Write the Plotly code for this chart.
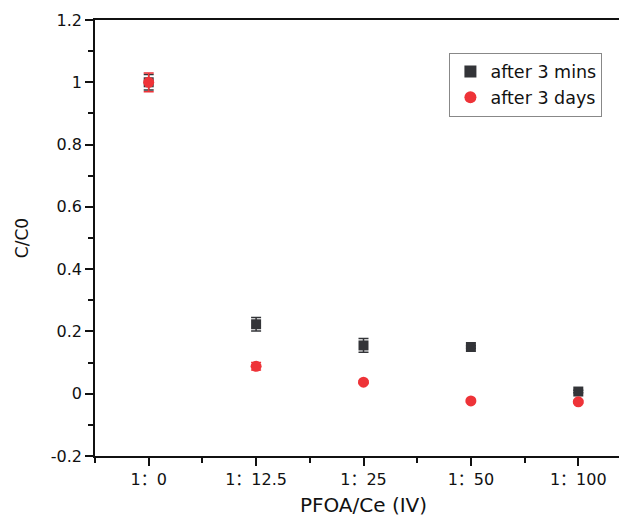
import plotly.graph_objects as go

categories = ["1：0", "1：12.5", "1：25", "1：50", "1：100"]
mins_vals = [1.0, 0.223, 0.155, 0.150, 0.007]
mins_err = [0.025, 0.022, 0.022, 0.004, 0.004]
days_vals = [1.0, 0.088, 0.037, -0.023, -0.026]
days_err = [0.030, 0.012, 0.004, 0.004, 0.004]
y_ticks = [-0.2, 0, 0.2, 0.4, 0.6, 0.8, 1, 1.2]
y_ticktext = ["-0.2", "0", "0.2", "0.4", "0.6", "0.8", "1", "1.2"]

xpos = list(range(len(categories)))

fig = go.Figure()
fig.add_trace(go.Scatter(
    x=xpos, y=mins_vals, mode="markers", name="after 3 mins",
    marker=dict(symbol="square", size=10, color="#333438"),
    error_y=dict(type="data", array=mins_err, color="#333438", thickness=1.5, width=5),
))
fig.add_trace(go.Scatter(
    x=xpos, y=days_vals, mode="markers", name="after 3 days",
    marker=dict(symbol="circle", size=11, color="#ee3338"),
    error_y=dict(type="data", array=days_err, color="#ee3338", thickness=1.5, width=5),
))

font = "DejaVu Sans, Noto Sans CJK SC, sans-serif"
fig.update_layout(
    width=627, height=513,
    margin=dict(l=87, r=3, t=12, b=65),
    plot_bgcolor="white", paper_bgcolor="white",
    font=dict(family=font, size=16, color="#111"),
    showlegend=True,
    legend=dict(x=0.66, y=0.925, xanchor="left", yanchor="top",
                bordercolor="#888", borderwidth=1, bgcolor="white",
                font=dict(size=17.5, family=font), itemsizing="constant",
                entrywidth=150, tracegroupgap=0),
    xaxis=dict(
        range=[-0.5, 4.5], tickmode="array", tickvals=xpos, ticktext=categories,
        showline=True, linecolor="#111", linewidth=1.5, mirror=True,
        ticks="outside", ticklen=8, tickwidth=1.5, tickcolor="#111",
        minor=dict(tickmode="linear", tick0=0.5, dtick=1, ticks="outside",
                   ticklen=5, tickwidth=1.5, tickcolor="#111"),
        showgrid=False, zeroline=False,
        title=dict(text="PFOA/Ce (IV)", font=dict(size=20), standoff=10),
        tickfont=dict(size=16),
    ),
    yaxis=dict(
        range=[-0.2, 1.2], tickmode="array", tickvals=y_ticks, ticktext=y_ticktext,
        showline=True, linecolor="#111", linewidth=1.5,
        ticks="outside", ticklen=8, tickwidth=1.5, tickcolor="#111",
        minor=dict(tickmode="linear", tick0=0.1, dtick=0.2, ticks="outside",
                   ticklen=5, tickwidth=1.5, tickcolor="#111"),
        showgrid=False, zeroline=False,
        title=dict(text="C/C0", font=dict(size=17), standoff=18),
        tickfont=dict(size=16),
    ),
)
fig.write_html("out.html")
